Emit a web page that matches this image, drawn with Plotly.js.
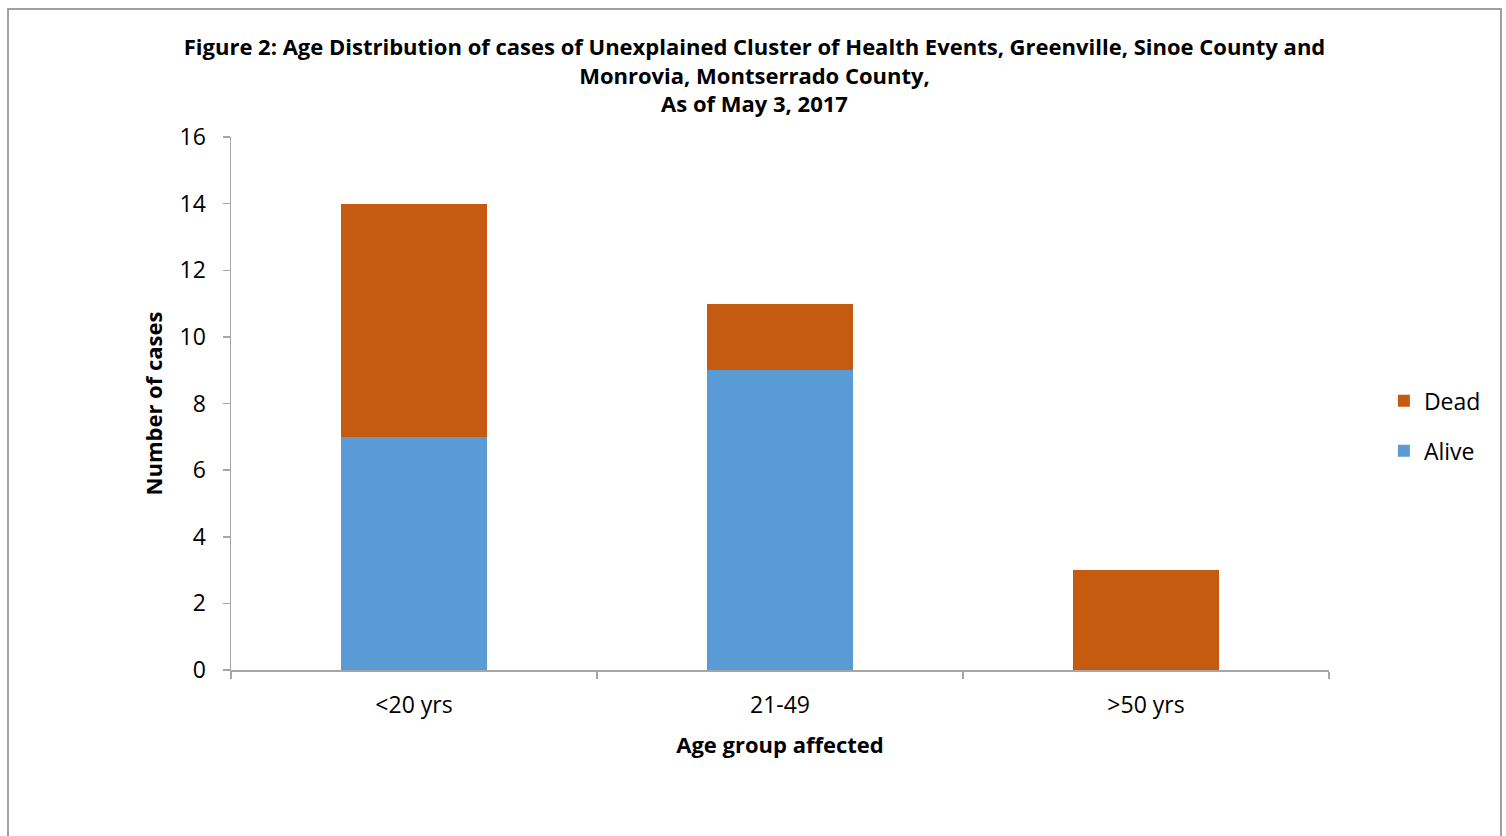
<!DOCTYPE html>
<html><head><meta charset="utf-8">
<script src="https://cdn.plot.ly/plotly-3.0.1.min.js"></script>
<style>
body{margin:0;overflow:hidden;background:#fff;}
#frame{position:absolute;left:7px;top:8px;width:1491px;height:860px;border:2px solid #a0a0a0;}
#chart{width:1491px;height:860px;}
</style></head><body>
<div id="frame"><div id="chart"></div></div>
<script>
const categories = ['<20 yrs', '21-49', '>50 yrs'];
const alive = [7, 9, 0];
const dead = [7, 2, 3];
const yTicks = [0, 2, 4, 6, 8, 10, 12, 14, 16];

const font = '"Open Sans", sans-serif';
const traces = [
  {type:'bar', name:'Alive', x:categories, y:alive, marker:{color:'#5b9bd5'}, width:0.4, legendgroup:'a', legendrank:2},
  {type:'bar', name:'Dead', x:categories, y:dead, marker:{color:'#c55a11'}, width:0.4, legendgroup:'b', legendrank:1}
];
const layout = {
  barmode:'stack',
  width:1491, height:860,
  margin:{l:222, r:171, t:127, b:200},
  paper_bgcolor:'#fff', plot_bgcolor:'#fff',
  font:{family:font, size:22, color:'#000'},
  title:{text:'<b>Figure 2: Age Distribution of cases of Unexplained Cluster of Health Events, Greenville, Sinoe County and<br>Monrovia, Montserrado County,<br>As of May 3, 2017</b>',
    x:0.5, xref:'container', y:1, yref:'container', yanchor:'top', pad:{t:45},
    font:{family:font, size:22, color:'#000'}},
  xaxis:{type:'category', showline:true, linecolor:'#a6a6a6', linewidth:1.5,
    ticks:'outside', tickson:'boundaries', ticklen:7, tickcolor:'#a6a6a6', tickwidth:1.5,
    showgrid:false, zeroline:false, ticklabelstandoff:14,
    title:{text:'<b>Age group affected</b>', font:{family:font, size:22}, standoff:18},
    tickfont:{family:font, size:23}},
  yaxis:{range:[0,16], tickvals:yTicks, showline:true, linecolor:'#a6a6a6', linewidth:1.5,
    ticks:'outside', ticklen:7, tickcolor:'#a6a6a6', tickwidth:1.5,
    showgrid:false, zeroline:false, ticklabelstandoff:12,
    title:{text:'<b>Number of cases</b>', font:{family:font, size:22}, standoff:11},
    tickfont:{family:font, size:23}},
  legend:{traceorder:'grouped', x:1.05, xanchor:'left', y:0.458, yanchor:'middle',
    font:{family:font, size:23}, itemwidth:30, tracegroupgap:17},
  showlegend:true
};
Plotly.newPlot('chart', traces, layout, {displayModeBar:false, staticPlot:true});
</script></body></html>
